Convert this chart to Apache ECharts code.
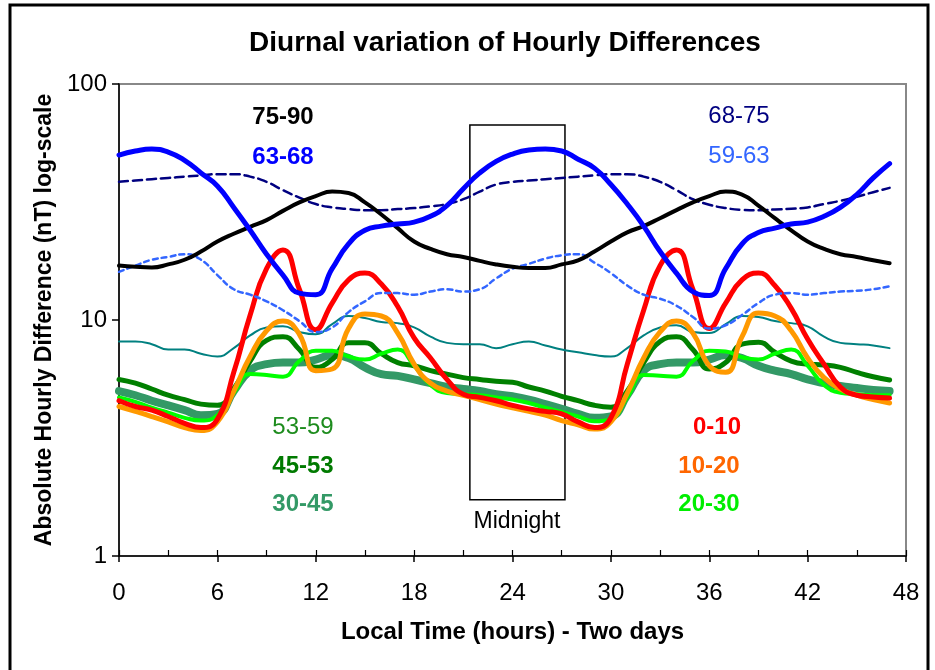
<!DOCTYPE html>
<html>
<head>
<meta charset="utf-8">
<script src="https://cdn.jsdelivr.net/npm/echarts@6/dist/echarts.min.js"></script>
<style>
html,body{margin:0;padding:0;background:#fff;}
#chart{width:935px;height:670px;}
</style>
</head>
<body>
<div id="chart"></div>
<script>
// ---- Data (hours 0..47, two days) ----
var xTicks = [0, 6, 12, 18, 24, 30, 36, 42, 48];
var yTicks = [1, 10, 100];

var s75_90 = [17, 16.8, 16.7, 17.2, 18, 19.5, 21.5, 23.2, 24.8, 26.5, 29, 31.5, 33.5, 35, 34.5, 31.5, 28, 24.5, 21.5, 20, 19, 18.5, 17.8, 17.2,
              16.8, 16.6, 16.6, 17.2, 17.9, 19.5, 21.5, 23.5, 25, 27, 29.2, 31.5, 33.5, 35, 34, 30.5, 27, 24, 21.5, 20, 19, 18.5, 17.9, 17.4];
var s63_68 = [50, 52, 53, 51.5, 47.5, 42, 37, 30, 24, 19, 15.5, 13, 12.8, 16.5, 21, 24, 25, 25.5, 26, 27.5, 30.5, 36, 42, 47,
              50.5, 52.5, 53, 52, 48, 44, 37.5, 31, 25, 19.5, 15.8, 13.2, 12.7, 16.5, 21, 23.5, 24.5, 25.5, 26, 27.5, 30, 34, 40, 46];
var s68_75 = [38.5, 39, 39.5, 40, 40.5, 41, 41.5, 41.5, 40.5, 38.5, 35.5, 33, 31, 30, 29.5, 29.2, 29.2, 29.5, 29.8, 30.3, 31, 32.5, 35, 37.5,
              38.5, 39, 39.5, 40, 40.5, 41, 41.5, 41.5, 40.5, 38.5, 35.5, 32.5, 30.8, 29.8, 29.3, 29.2, 29.4, 29.6, 30, 31, 32, 33.3, 34.8, 36.3];
var s59_63 = [16, 17, 18, 18.5, 19, 18, 15.5, 13.5, 12.8, 12, 11, 9.9, 8.9, 9.3, 10.8, 12, 13, 13, 12.8, 13.2, 13.5, 13.2, 13.5, 15,
              16.5, 17.3, 18.2, 18.8, 19, 17.5, 15.8, 14, 12.8, 12.3, 11.5, 10.3, 9.2, 9.5, 10.5, 11.8, 12.8, 13, 12.8, 13, 13.2, 13.3, 13.5, 13.9];
var s53_59 = [8.1, 8.1, 7.9, 7.5, 7.5, 7.2, 7.0, 7.6, 8.6, 9.3, 9.4, 8.9, 8.7, 9.6, 10.4, 10.2, 9.8, 9.7, 9.3, 8.5, 8.0, 7.9, 7.9, 7.6,
              7.9, 8.1, 7.8, 7.5, 7.3, 7.1, 7.0, 7.6, 8.6, 9.3, 9.5, 8.9, 8.8, 9.6, 10.4, 10.3, 9.9, 9.7, 9.4, 8.5, 8.0, 7.9, 7.8, 7.6];
var s45_53 = [5.6, 5.4, 5.1, 4.8, 4.6, 4.4, 4.35, 5.1, 6.7, 8.2, 8.5, 7.5, 6.3, 6.8, 8.0, 8.0, 7.2, 6.6, 6.4, 6.1, 5.9, 5.7, 5.6, 5.5,
              5.45, 5.2, 5.0, 4.75, 4.55, 4.35, 4.27, 5.0, 6.6, 8.1, 8.5, 7.5, 6.2, 6.6, 7.9, 8.05, 7.3, 6.7, 6.5, 6.45, 6.3, 6.0, 5.75, 5.57];
var s30_45 = [5.0, 4.8, 4.55, 4.35, 4.15, 3.95, 4.0, 5.0, 6.1, 6.5, 6.6, 6.6, 6.8, 7.1, 6.9, 6.3, 5.9, 5.8, 5.6, 5.4, 5.2, 5.1, 5.0, 4.85,
              4.75, 4.6, 4.4, 4.2, 4.0, 3.85, 3.9, 4.8, 6.1, 6.5, 6.6, 6.6, 6.8, 7.1, 6.9, 6.4, 6.1, 5.9, 5.6, 5.4, 5.25, 5.15, 5.05, 5.0];
var s20_30 = [4.7, 4.5, 4.25, 4.05, 3.85, 3.75, 3.95, 4.9, 5.9, 5.85, 5.75, 6.7, 7.4, 7.4, 7.0, 6.8, 7.2, 7.5, 6.4, 5.3, 4.9, 4.85, 4.8, 4.7,
              4.6, 4.45, 4.25, 4.08, 3.9, 3.72, 3.8, 4.7, 5.85, 5.8, 5.75, 6.7, 7.4, 7.35, 6.95, 6.8, 7.2, 7.5, 6.4, 5.3, 4.92, 4.85, 4.8, 4.8];
var s0_10 = [4.55, 4.3, 4.15, 3.9, 3.65, 3.5, 3.8, 6.0, 10.5, 16.5, 19.8, 13.5, 9.1, 11.8, 14.8, 15.8, 14.2, 11.4, 8.4, 6.9, 5.6, 4.85, 4.7, 4.55,
             4.35, 4.2, 4.1, 4.0, 3.7, 3.5, 3.85, 6.5, 11, 17, 19.8, 13.5, 9.2, 11.8, 14.8, 15.8, 14, 11.2, 8.3, 6.5, 5.2, 4.8, 4.72, 4.67];
var s10_20 = [4.3, 4.1, 3.9, 3.7, 3.5, 3.4, 3.7, 5.0, 7.0, 9.0, 9.9, 8.7, 6.1, 6.2, 9.2, 10.6, 10.4, 8.8, 6.5, 5.4, 5.0, 4.8, 4.6, 4.4,
              4.25, 4.1, 3.95, 3.75, 3.6, 3.45, 3.7, 4.9, 6.9, 8.9, 9.9, 8.8, 6.4, 6.0, 8.5, 10.7, 10.4, 9.0, 6.9, 5.7, 5.1, 4.8, 4.6, 4.45];

// Midnight box (x: hours, y: value)
var midnightBox = { x0: 21.4, x1: 27.2, yTop: 67, yBottom: 1.73 };

var FONT = "'Liberation Sans', Arial, sans-serif";

function pairs(arr) { return arr.map(function (v, i) { return [i, v]; }); }

function lineSeries(name, data, color, width, type, z) {
  return {
    name: name, type: 'line', data: pairs(data), smooth: 0.5, symbol: 'none',
    xAxisIndex: 0, yAxisIndex: 0, z: z,
    lineStyle: { color: color, width: width, type: type || 'solid', cap: 'round', join: 'round' },
    emphasis: { disabled: true }
  };
}

var series = [
  lineSeries('30-45', s30_45, '#339966', 8, 'solid', 2),
  lineSeries('53-59', s53_59, '#008080', 2, 'solid', 3),
  lineSeries('45-53', s45_53, '#008000', 5, 'solid', 4),
  lineSeries('20-30', s20_30, '#00FF00', 4, 'solid', 5),
  lineSeries('10-20', s10_20, '#FF9900', 5, 'solid', 6),
  lineSeries('0-10', s0_10, '#FF0000', 5, 'solid', 7),
  lineSeries('59-63', s59_63, '#3366FF', 2.5, [5, 4], 8),
  lineSeries('68-75', s68_75, '#000080', 2.5, [9, 5], 9),
  lineSeries('75-90', s75_90, '#000000', 4, 'solid', 10),
  lineSeries('63-68', s63_68, '#0000FF', 5, 'solid', 11)
];

series[0].markArea = {
  silent: true,
  itemStyle: { color: 'rgba(0,0,0,0)', borderColor: '#000', borderWidth: 1.5 },
  data: [[{ xAxis: midnightBox.x0, yAxis: midnightBox.yTop }, { xAxis: midnightBox.x1, yAxis: midnightBox.yBottom }]]
};

function label(text, x, y, color, bold, size) {
  return {
    type: 'text', x: x, y: y, z: 100,
    style: { text: text, fill: color, font: (bold ? 'bold ' : '') + (size || 24) + 'px ' + FONT,
             align: 'center', verticalAlign: 'middle', textAlign: 'center', textVerticalAlign: 'middle' }
  };
}

var chart = echarts.init(document.getElementById('chart'), null, { renderer: 'canvas' });
chart.setOption({
  animation: false,
  backgroundColor: '#fff',
  title: {
    text: 'Diurnal variation of Hourly Differences',
    left: 505, top: 29, textAlign: 'center', padding: 0,
    textStyle: { fontFamily: FONT, fontSize: 28, fontWeight: 'bold', color: '#000' }
  },
  grid: { left: 119, right: 29, top: 84, bottom: 114, show: true, borderColor: '#888', borderWidth: 2, backgroundColor: '#fff' },
  xAxis: [{
    type: 'value', min: 0, max: 48, interval: 6,
    name: 'Local Time (hours) - Two days', nameLocation: 'middle', nameGap: 64,
    nameTextStyle: { fontFamily: FONT, fontSize: 24, fontWeight: 'bold', color: '#000' },
    axisLine: { show: true, onZero: false, lineStyle: { color: '#000', width: 1.5 } },
    axisTick: { show: true, length: 6, lineStyle: { color: '#000', width: 1.5 } },
    axisLabel: { fontFamily: FONT, fontSize: 24, color: '#000', margin: 25, formatter: function (v) { return xTicks.indexOf(v) >= 0 ? String(v) : ''; } },
    splitLine: { show: false }
  }, {
    type: 'value', min: 0, max: 48, interval: 3, position: 'bottom',
    axisLine: { show: false },
    axisTick: { show: true, inside: true, length: 6, lineStyle: { color: '#000', width: 1.2 } },
    axisLabel: { show: false },
    splitLine: { show: false }
  }],
  yAxis: {
    type: 'log', logBase: 10, min: yTicks[0], max: yTicks[yTicks.length - 1],
    name: 'Absolute Hourly Difference (nT) log-scale', nameLocation: 'middle', nameGap: 61,
    nameTextStyle: { fontFamily: FONT, fontSize: 23, fontWeight: 'bold', color: '#000' },
    axisLine: { show: true, lineStyle: { color: '#000', width: 1.5 } },
    axisTick: { show: true, length: 7, lineStyle: { color: '#000', width: 1.5 } },
    minorTick: { show: false },
    axisLabel: { fontFamily: FONT, fontSize: 24, color: '#000', margin: 12 },
    splitLine: { show: false }
  },
  graphic: [
    { type: 'rect', z: 0, shape: { x: 10, y: 5, width: 918, height: 700 }, style: { fill: 'none', stroke: '#000', lineWidth: 3 } },
    label('75-90', 283, 117, '#000000', true),
    label('63-68', 283, 157, '#0000FF', true),
    label('68-75', 739, 116, '#000080', false),
    label('59-63', 739, 156, '#3366FF', false),
    label('53-59', 303, 427, '#1E8C1E', false),
    label('45-53', 303, 466, '#007A00', true),
    label('30-45', 303, 504, '#339966', true),
    label('0-10', 717, 427, '#FF0000', true),
    label('10-20', 709, 466, '#FF6600', true),
    label('20-30', 709, 504, '#00EE00', true),
    label('Midnight', 517, 522, '#000', false, 23)
  ],
  series: series
});
</script>
</body>
</html>
